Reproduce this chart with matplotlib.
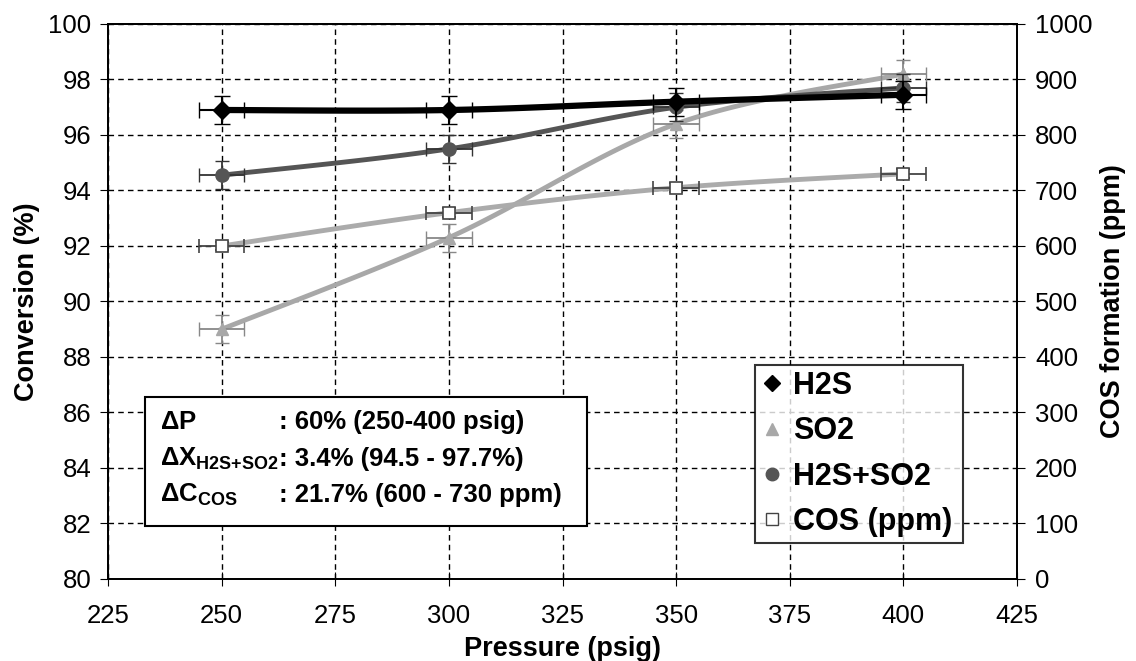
import numpy as np
import matplotlib
matplotlib.use('Agg')
import matplotlib.pyplot as plt
from matplotlib.patches import Rectangle
from matplotlib.lines import Line2D

plt.rcParams['font.family'] = ['Liberation Sans', 'DejaVu Sans']
plt.rcParams['mathtext.fontset'] = 'custom'
plt.rcParams['mathtext.rm'] = 'Liberation Sans:bold'
plt.rcParams['mathtext.bf'] = 'Liberation Sans:bold'
plt.rcParams['mathtext.it'] = 'Liberation Sans:bold'

# data
pressure = [250, 300, 350, 400]
h2s = [96.9, 96.9, 97.2, 97.45]
so2 = [89.0, 92.3, 96.4, 98.2]
h2s_so2 = [94.55, 95.5, 97.0, 97.7]
cos_ppm = [600, 660, 705, 730]
x_err = 5
conv_err = 0.5
cos_err = 8

x_ticks = [225, 250, 275, 300, 325, 350, 375, 400, 425]
y_ticks = list(range(80, 101, 2))
y2_ticks = list(range(0, 1001, 100))


def smooth(x, y, n=40):
    # excel-like smoothed line (bezier through the points)
    P = np.column_stack([np.asarray(x, float), np.asarray(y, float)])
    out = []
    for i in range(len(P) - 1):
        p0 = P[i - 1] if i > 0 else P[i]
        p1 = P[i]
        p2 = P[i + 1]
        p3 = P[i + 2] if i + 2 < len(P) else P[i + 1]
        c1 = p1 + (p2 - p0) / 6.0
        c2 = p2 - (p3 - p1) / 6.0
        t = np.linspace(0, 1, n)[:, None]
        seg = (1 - t) ** 3 * p1 + 3 * (1 - t) ** 2 * t * c1 + 3 * (1 - t) * t ** 2 * c2 + t ** 3 * p2
        out.append(seg)
    out = np.vstack(out)
    return out[:, 0], out[:, 1]


fig = plt.figure(figsize=(11.36, 6.61), dpi=100)
ax = fig.add_axes([0.0951, 0.1241, 0.8002, 0.8396])
ax2 = ax.twinx()

ax.set_xlim(225, 425)
ax.set_ylim(80, 100)
ax2.set_ylim(0, 1000)
ax.set_xticks(x_ticks)
ax.set_yticks(y_ticks)
ax2.set_yticks(y2_ticks)
ax.grid(True, color='black', linestyle=(0, (4, 3)), linewidth=1.0)
ax.set_axisbelow(True)

ax.tick_params(labelsize=18.5, direction='out', length=6, pad=6)
ax.tick_params(axis='x', direction='inout', length=10, pad=13)
ax2.tick_params(labelsize=18.5, direction='out', length=6, pad=7)
for a in (ax, ax2):
    for s in a.spines.values():
        s.set_linewidth(1.3)

ax.set_xlabel('Pressure (psig)', fontsize=19.5, fontweight='bold', labelpad=6)
ax.set_ylabel('Conversion (%)', fontsize=19.5, fontweight='bold', labelpad=6)
ax2.set_ylabel('COS formation (ppm)', fontsize=19.5, fontweight='bold', labelpad=5)

# lines
col_so2 = '#a8a8a8'
col_mix = '#555555'
col_cos = '#ababab'

sx, sy = smooth(pressure, so2)
ax.plot(sx, sy, color=col_so2, lw=3.5, zorder=3)
sx, sy = smooth(pressure, h2s_so2)
ax.plot(sx, sy, color=col_mix, lw=3.5, zorder=4)
sx, sy = smooth(pressure, h2s)
ax.plot(sx, sy, color='black', lw=4.5, zorder=5)
sx, sy = smooth(pressure, cos_ppm)
ax2.plot(sx, sy, color=col_cos, lw=3.5, zorder=3)

# markers + error bars
ax.errorbar(pressure, so2, xerr=x_err, yerr=conv_err, fmt='^', ms=9,
            color=col_so2, mec=col_so2, ecolor='#888888', elinewidth=1.3, capsize=5, zorder=6)
ax.errorbar(pressure, h2s_so2, xerr=x_err, yerr=conv_err, fmt='o', ms=9.5,
            color=col_mix, mec=col_mix, ecolor='#333333', elinewidth=1.3, capsize=5, zorder=7)
ax.errorbar(pressure, h2s, xerr=x_err, yerr=conv_err, fmt='D', ms=9,
            color='black', ecolor='black', elinewidth=1.5, capsize=6, zorder=8)
ax2.errorbar(pressure, cos_ppm, xerr=x_err, yerr=cos_err, fmt='s', ms=9,
             mfc='white', mec='#444444', mew=1.2, ecolor='#444444', elinewidth=1.3, capsize=5, zorder=6)

# info box
ax2.add_patch(Rectangle((0.0407, 0.0955), 0.4863, 0.2325, transform=ax.transAxes,
                        facecolor='white', edgecolor='black', lw=1.5, zorder=10))
rows = [(r'$\Delta$P', ': 60% (250-400 psig)'),
        (r'$\Delta$X$_{\mathrm{H2S{+}SO2}}$', ': 3.4% (94.5 - 97.7%)'),
        (r'$\Delta$C$_{\mathrm{COS}}$', ': 21.7% (600 - 730 ppm)')]
ys = [0.283, 0.217, 0.152]
for (lab, val), yy in zip(rows, ys):
    ax2.text(0.0572, yy, lab, transform=ax.transAxes, fontsize=18.5, fontweight='bold',
             va='center', zorder=11)
    ax2.text(0.188, yy, val, transform=ax.transAxes, fontsize=18.5, fontweight='bold',
             va='center', zorder=11)

# legend with markers only
handles = [Line2D([], [], ls='none', marker='D', ms=8, color='black'),
           Line2D([], [], ls='none', marker='^', ms=9, color=col_so2),
           Line2D([], [], ls='none', marker='o', ms=9, color=col_mix),
           Line2D([], [], ls='none', marker='s', ms=8, mfc='white', mec='#444444')]
labels = ['H2S', 'SO2', 'H2S+SO2', 'COS (ppm)']
leg = ax2.legend(handles, labels, loc='lower left', bbox_to_anchor=(0.712, 0.065, 0.228, 0.3),
                 mode='expand', prop={'weight': 'bold', 'size': 22},
                 frameon=True, fancybox=False, edgecolor='black', handlelength=0.7,
                 handletextpad=0.35, labelspacing=0.5, borderpad=0.2, borderaxespad=0)
leg.get_frame().set_linewidth(1.5)
leg.set_zorder(12)

fig.savefig('out.png', dpi=100)
